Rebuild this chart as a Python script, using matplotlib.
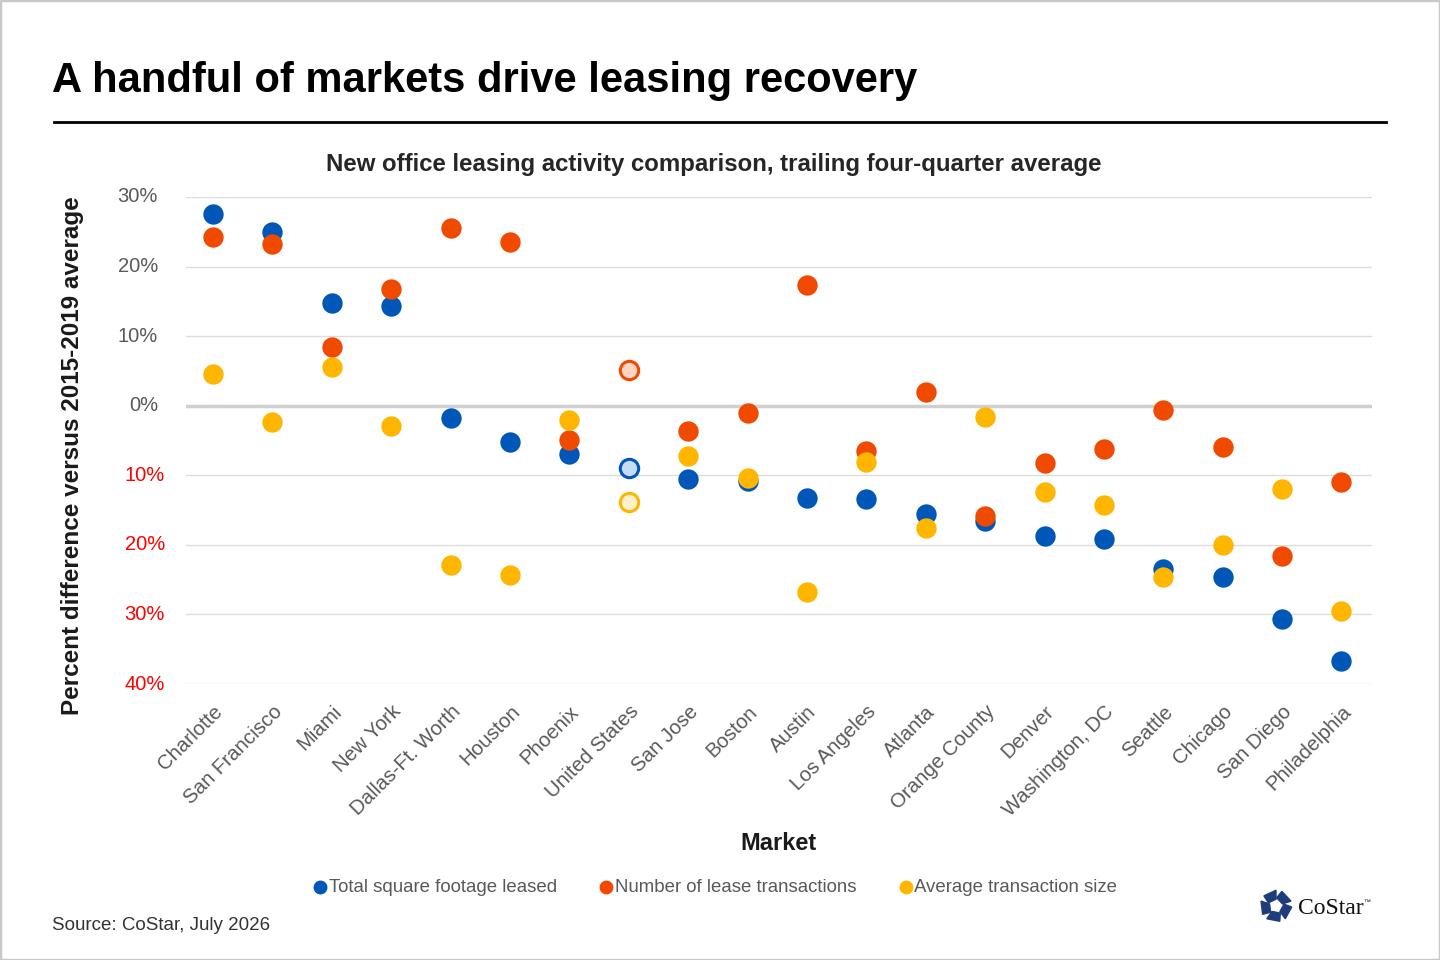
import numpy as np
import matplotlib.pyplot as plt
from matplotlib.lines import Line2D
from matplotlib.patches import Rectangle, Polygon

plt.rcParams['font.family'] = ['Liberation Sans', 'DejaVu Sans']

markets = ["Charlotte", "San Francisco", "Miami", "New York", "Dallas-Ft. Worth",
           "Houston", "Phoenix", "United States", "San Jose", "Boston", "Austin",
           "Los Angeles", "Atlanta", "Orange County", "Denver", "Washington, DC",
           "Seattle", "Chicago", "San Diego", "Philadelphia"]
total_sqft = [27.5, 25.0, 14.8, 14.4, -1.7, -5.2, -6.9, -8.9, -10.5, -10.8, -13.2,
              -13.4, -15.5, -16.5, -18.7, -19.1, -23.5, -24.6, -30.6, -36.7]
num_transactions = [24.2, 23.2, 8.5, 16.8, 25.6, 23.6, -4.9, 5.2, -3.6, -1.0, 17.4,
                    -6.5, 2.0, -15.8, -8.3, -6.2, -0.6, -5.9, -21.6, -10.9]
avg_size = [4.6, -2.4, 5.6, -2.9, -22.9, -24.3, -2.0, -13.8, -7.3, -10.4, -26.8,
            -8.1, -17.6, -1.6, -12.4, -14.2, -24.6, -20.0, -11.9, -29.5]
yticks = [30, 20, 10, 0, -10, -20, -30, -40]
series_names = ["Total square footage leased", "Number of lease transactions",
                "Average transaction size"]

blue, orange, yellow = "#0057b8", "#f04a00", "#ffb600"
light = {blue: "#c5dcf7", orange: "#fdd5c5", yellow: "#fff0cc"}
us = markets.index("United States")

fig = plt.figure(figsize=(14.4, 9.6), dpi=100)
ax = fig.add_axes([0.129, 0.2875, 0.824, 0.5073])

x = np.arange(len(markets))
for vals, c in [(total_sqft, blue), (num_transactions, orange), (avg_size, yellow)]:
    v = np.array(vals)
    mask = x != us
    ax.scatter(x[mask], v[mask], s=215, color=c, linewidths=0, zorder=3)
    ax.scatter([us], [v[us]], s=175, facecolor=light[c], edgecolor=c,
               linewidths=2.2, zorder=3)

ax.set_xlim(-0.46, 19.52)
ax.set_ylim(-40, 30)
ax.set_yticks(yticks)
ax.set_yticklabels([])
# y labels drawn by hand: negatives shown without sign, in red
for t in yticks:
    ax.annotate(f"{abs(t)}%", xy=(0, t), xycoords=ax.get_yaxis_transform(),
                xytext=(-15 if t < 0 else -20, 0), textcoords="offset points",
                ha="right", va="center", fontsize=14.5,
                color="#ff0000" if t < 0 else "#595959")
ax.set_xticks(x)
ax.set_xticklabels(markets, rotation=45, ha="right", rotation_mode="anchor",
                   fontsize=14.7, color="#595959")
ax.tick_params(length=0)
ax.tick_params(axis="x", pad=13)
for t in yticks:
    ax.axhline(t, color="#d0d0d0" if t == 0 else "#dcdcdc",
               lw=2.5 if t == 0 else 1, zorder=1)
for s in ax.spines.values():
    s.set_visible(False)

fig.text(73 / 1440, 1 - 456 / 960, "Percent difference versus 2015-2019 average",
         fontsize=17.5, fontweight="bold", color="#1a1a1a", rotation=90,
         ha="center", va="center")

fig.text(0.036, 1 - 81 / 960, "A handful of markets drive leasing recovery", fontsize=30,
         fontweight="bold", va="center", color="black")
fig.add_artist(Line2D([54 / 1440, 1386 / 1440], [1 - 122 / 960] * 2, color="black", lw=2))
fig.text(714 / 1440, 1 - 165 / 960,
         "New office leasing activity comparison, trailing four-quarter average",
         fontsize=17.3, fontweight="bold", ha="center", va="center", color="#262626")
fig.text(778 / 1440, 1 - 843 / 960, "Market", fontsize=17, fontweight="bold",
         ha="center", va="center", color="#1a1a1a")

# legend
for (px, tx), name, c in zip([(320, 329), (606, 615), (906, 914)], series_names,
                             [blue, orange, yellow]):
    fig.add_artist(Line2D([px / 1440], [1 - 887 / 960], marker="o", ms=9,
                          color=c, mec=c, lw=0))
    fig.text(tx / 1440, 1 - 887 / 960, name, fontsize=13.4, color="#595959",
             va="center", ha="left")

fig.text(52 / 1440, 1 - 925 / 960, "Source: CoStar, July 2026", fontsize=13.5,
         color="#333333", va="center")

# CoStar logo
lax = fig.add_axes([1256 / 1440, 1 - 924 / 960, 40 / 1440, 36 / 960])
lax.set_xlim(-1.2, 1.2)
lax.set_ylim(-1.2, 1.2)
lax.set_aspect("equal")
lax.axis("off")
for k in range(5):
    a0 = np.deg2rad(90 + 72 * k)
    a1 = a0 + np.deg2rad(50)
    pts = [(0.45 * np.cos(a0), 0.45 * np.sin(a0)), (1.05 * np.cos(a0), 1.05 * np.sin(a0)),
           (1.05 * np.cos(a1), 1.05 * np.sin(a1)), (0.55 * np.cos(a1 + 0.3), 0.55 * np.sin(a1 + 0.3))]
    lax.add_patch(Polygon(pts, closed=True, color="#1f3c7c"))
fig.text(1298 / 1440, 1 - 908 / 960, "CoStar", family=["Liberation Serif", "DejaVu Serif"],
         fontsize=17, color="#111111", va="center")
fig.text(1363 / 1440, 1 - 902 / 960, "\u2122", fontsize=5, color="#111111", va="center")

fig.add_artist(Rectangle((0, 0), 1, 1, transform=fig.transFigure, fill=False,
                         edgecolor="#c8c8c8", lw=2.5))

fig.savefig("out.png", dpi=100)
